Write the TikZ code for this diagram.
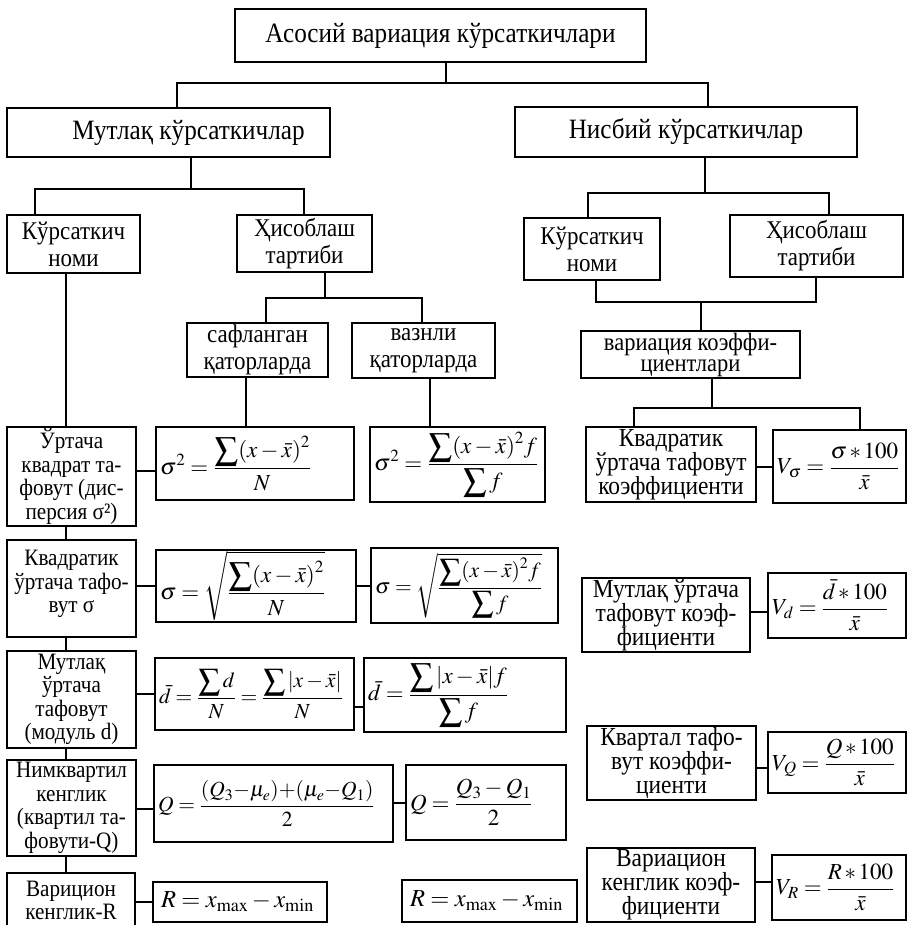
\documentclass[tikz,border=0pt]{standalone}
\usepackage{mathptmx}
\usepackage[no-math]{fontspec}
\setmainfont{Liberation Serif}[FakeStretch=0.9]
\tikzset{
  bx/.style={draw, line width=1.5pt, inner sep=2pt, align=center},
  hb/.style={bx, font=\fontsize{28}{30}\selectfont},
  mb/.style={bx, font=\fontsize{25.5}{27}\selectfont},
  vkb/.style={bx, inner ysep=0pt, font=\fontsize{25}{21}\selectfont},
  lb/.style={bx, inner xsep=0pt, font=\fontsize{23.5}{23.5}\selectfont},
  rb/.style={bx, inner ysep=0pt, font=\fontsize{26}{24}\selectfont},
  fb/.style={draw, line width=1.5pt, inner xsep=4pt, inner ysep=0pt, align=left, font=\fontsize{23}{26}\selectfont},
  fbs/.style={fb, font=\fontsize{21.5}{26}\selectfont},
  fbv/.style={fb, font=\fontsize{23}{26}\selectfont},
  fbr/.style={fb, font=\fontsize{24.5}{26}\selectfont},
  conn/.style={line width=1.5pt}
}
\newcommand\tbox[7]{\node[#1,minimum width=#5pt-#3pt,minimum height=#6pt-#4pt] (#2) at ({(#3+#5)/2},{(#4+#6)/2}) {#7};}
\newcommand\formbox[7]{\pgfmathsetmacro\fmw{#5-#3-8}\node[#1,text width=\fmw pt,minimum height=#6pt-#4pt] (#2) at ({(#3+#5)/2},{(#4+#6)/2}) {\hbox{$\displaystyle #7$}};}
\newcommand\dfr[2]{\frac{\displaystyle #1}{\displaystyle #2}}
\begin{document}
\begin{tikzpicture}[x=1pt,y=-1pt]
\useasboundingbox (0,0) rectangle (908,925);
% level 1-2
\tbox{hb}{top}{235}{9}{646}{62}{Асосий вариация кўрсаткичлари}
\tbox{hb}{mut}{7}{108}{330}{157}{\hspace*{40pt}Мутлақ кўрсаткичлар}
\tbox{hb}{nis}{515}{107}{857}{157}{Нисбий кўрсаткичлар}
% level 3
\tbox{mb}{kL}{7}{215}{140}{273}{Кўрсаткич\\номи}
\tbox{mb}{hL}{237}{215}{372}{272}{Ҳисоблаш\\тартиби}
\tbox{mb}{kR}{524}{218}{660}{280}{Кўрсаткич\\номи}
\tbox{mb}{hR}{730}{215}{903}{277}{Ҳисоблаш\\тартиби}
\tbox{mb}{saf}{187}{323}{328}{377}{сафланган\\қаторларда}
\tbox{mb}{vaz}{352}{323}{495}{378}{вазнли\\қаторларда}
\tbox{vkb}{vk}{581}{331}{800}{378}{вариация коэффи-\\циентлари}
% left column
\tbox{lb}{L1}{7}{427}{136}{526}{Ўртача\\квадрат та-\\фовут (дис-\\персия σ²)}
\tbox{lb}{L2}{7}{540}{136}{637}{Квадратик\\ўртача тафо-\\вут σ\\[-9.5pt]}
\tbox{lb}{L3}{7}{651}{136}{748}{Мутлақ\\ўртача\\тафовут\\(модуль d)}
\tbox{lb}{L4}{7}{760}{136}{856}{Нимквартил\\кенглик\\(квартил та-\\фовути-Q)}
\tbox{lb}{L5}{7}{873}{135}{928}{Варицион\\кенглик-R}
% formulas
\formbox{fb}{F1a}{156}{427}{354}{500}{\sigma^2=\dfr{\sum(x-\bar x)^2}{N}}
\formbox{fb}{F1b}{370}{427}{545}{502}{\sigma^2=\dfr{\sum(x-\bar x)^2 f}{\sum f}}
\formbox{fb}{F2a}{156}{550}{356}{622}{\sigma=\sqrt{\dfr{\sum(x-\bar x)^2}{N}}}
\formbox{fbs}{F2b}{371}{548}{558}{623}{\sigma=\sqrt{\dfr{\sum(x-\bar x)^2 f}{\sum f}}}
\formbox{fbs}{F3a}{155}{658}{354}{730}{\bar d=\dfr{\sum d}{N}=\dfr{\sum|x-\bar x|}{N}}
\formbox{fb}{F3b}{364}{658}{566}{732}{\bar d=\dfr{\sum|x-\bar x|f}{\sum f}}
\formbox{fbs}{F4a}{154}{765}{393}{842}{Q=\frac{(Q_3{-}\mu_e){+}(\mu_e{-}Q_1)}{2}}
\formbox{fb}{F4b}{406}{765}{566}{840}{Q=\frac{Q_3-Q_1}{2}}
\formbox{fbr}{F5a}{153}{882}{327}{922}{\hskip4pt R=x_{\max}-x_{\min}}
\formbox{fbr}{F5b}{402}{880}{577}{922}{\hskip4pt R=x_{\max}-x_{\min}}
% right column
\tbox{rb}{R1}{586}{427}{756}{502}{Квадратик\\ўртача тафовут\\коэффициенти}
\formbox{fbv}{Vs}{773}{430}{906}{503}{V_\sigma=\frac{\sigma\,{\ast}\,100}{\bar x}}
\tbox{rb}{R2}{582}{578}{750}{652}{Мутлақ ўртача\\тафовут коэф-\\фициенти}
\formbox{fbv}{Vd}{768}{573}{906}{638}{V_d=\frac{\bar d\,{\ast}\,100}{\bar x}}
\tbox{rb}{R3}{587}{726}{756}{800}{Квартал тафо-\\вут коэффи-\\циенти}
\formbox{fbv}{VQ}{768}{732}{906}{793}{V_Q=\frac{Q\,{\ast}\,100}{\bar x}}
\tbox{rb}{R4}{587}{848}{755}{922}{Вариацион\\кенглик коэф-\\фициенти}
\formbox{fbv}{VR}{772}{855}{906}{920}{V_R=\frac{R\,{\ast}\,100}{\bar x}}
% bus coordinates
\coordinate (b1c) at (446,83); \coordinate (b1a) at (177,83); \coordinate (b1b) at (708,83);
\coordinate (b2c) at (191,189); \coordinate (b2a) at (35,189); \coordinate (b2b) at (304,189);
\coordinate (b3c) at (705,193); \coordinate (b3a) at (588,193); \coordinate (b3b) at (829,193);
\coordinate (b4a) at (596,302); \coordinate (b4b) at (816,302); \coordinate (b4c) at (701,302);
\coordinate (b5c) at (712,408); \coordinate (b5a) at (634,408); \coordinate (b5b) at (860,408);
\coordinate (b6c) at (325,298); \coordinate (b6a) at (266,298); \coordinate (b6b) at (422,298);
\coordinate (csaf) at (246,0); \coordinate (cvaz) at (430,0); \coordinate (cL) at (66,0);
\coordinate (y1) at (0,471); \coordinate (y2) at (0,586); \coordinate (y3) at (0,694);
\coordinate (y3b) at (0,707); \coordinate (y4) at (0,809); \coordinate (y4b) at (0,803);
\coordinate (y5) at (0,902);
\coordinate (r1) at (0,467); \coordinate (r2) at (0,612); \coordinate (r3) at (0,768); \coordinate (r4) at (0,882);
% tree connectors
\draw[conn] (b1c |- top.south) -- (b1c);
\draw[conn] (b1a |- mut.north) -- (b1a) -- (b1b) -- (b1b |- nis.north);
\draw[conn] (b2c |- mut.south) -- (b2c);
\draw[conn] (b2a |- kL.north) -- (b2a) -- (b2b) -- (b2b |- hL.north);
\draw[conn] (b3c |- nis.south) -- (b3c);
\draw[conn] (b3a |- kR.north) -- (b3a) -- (b3b) -- (b3b |- hR.north);
\draw[conn] (b4a |- kR.south) -- (b4a) -- (b4b) -- (b4b |- hR.south);
\draw[conn] (b4c) -- (b4c |- vk.north);
\draw[conn] (b5c |- vk.south) -- (b5c);
\draw[conn] (b5a |- R1.north) -- (b5a) -- (b5b) -- (b5b |- Vs.north);
\draw[conn] (b6c |- hL.south) -- (b6c);
\draw[conn] (b6a |- saf.north) -- (b6a) -- (b6b) -- (b6b |- vaz.north);
\draw[conn] (csaf |- saf.south) -- (csaf |- F1a.north);
\draw[conn] (cvaz |- vaz.south) -- (cvaz |- F1b.north);
% left column
\draw[conn] (cL |- kL.south) -- (cL |- L1.north);
\draw[conn] (cL |- L1.south) -- (cL |- L2.north);
\draw[conn] (cL |- L2.south) -- (cL |- L3.north);
\draw[conn] (cL |- L3.south) -- (cL |- L4.north);
\draw[conn] (cL |- L4.south) -- (cL |- L5.north);
% row connectors
\draw[conn] (L1.east |- y1) -- (F1a.west |- y1);
\draw[conn] (L2.east |- y2) -- (F2a.west |- y2);
\draw[conn] (F2a.east |- y2) -- (F2b.west |- y2);
\draw[conn] (L3.east |- y3) -- (F3a.west |- y3);
\draw[conn] (F3a.east |- y3b) -- (F3b.west |- y3b);
\draw[conn] (L4.east |- y4) -- (F4a.west |- y4);
\draw[conn] (F4a.east |- y4b) -- (F4b.west |- y4b);
\draw[conn] (L5.east |- y5) -- (F5a.west |- y5);
\draw[conn] (R1.east |- r1) -- (Vs.west |- r1);
\draw[conn] (R2.east |- r2) -- (Vd.west |- r2);
\draw[conn] (R3.east |- r3) -- (VQ.west |- r3);
\draw[conn] (R4.east |- r4) -- (VR.west |- r4);
\end{tikzpicture}
\end{document}
